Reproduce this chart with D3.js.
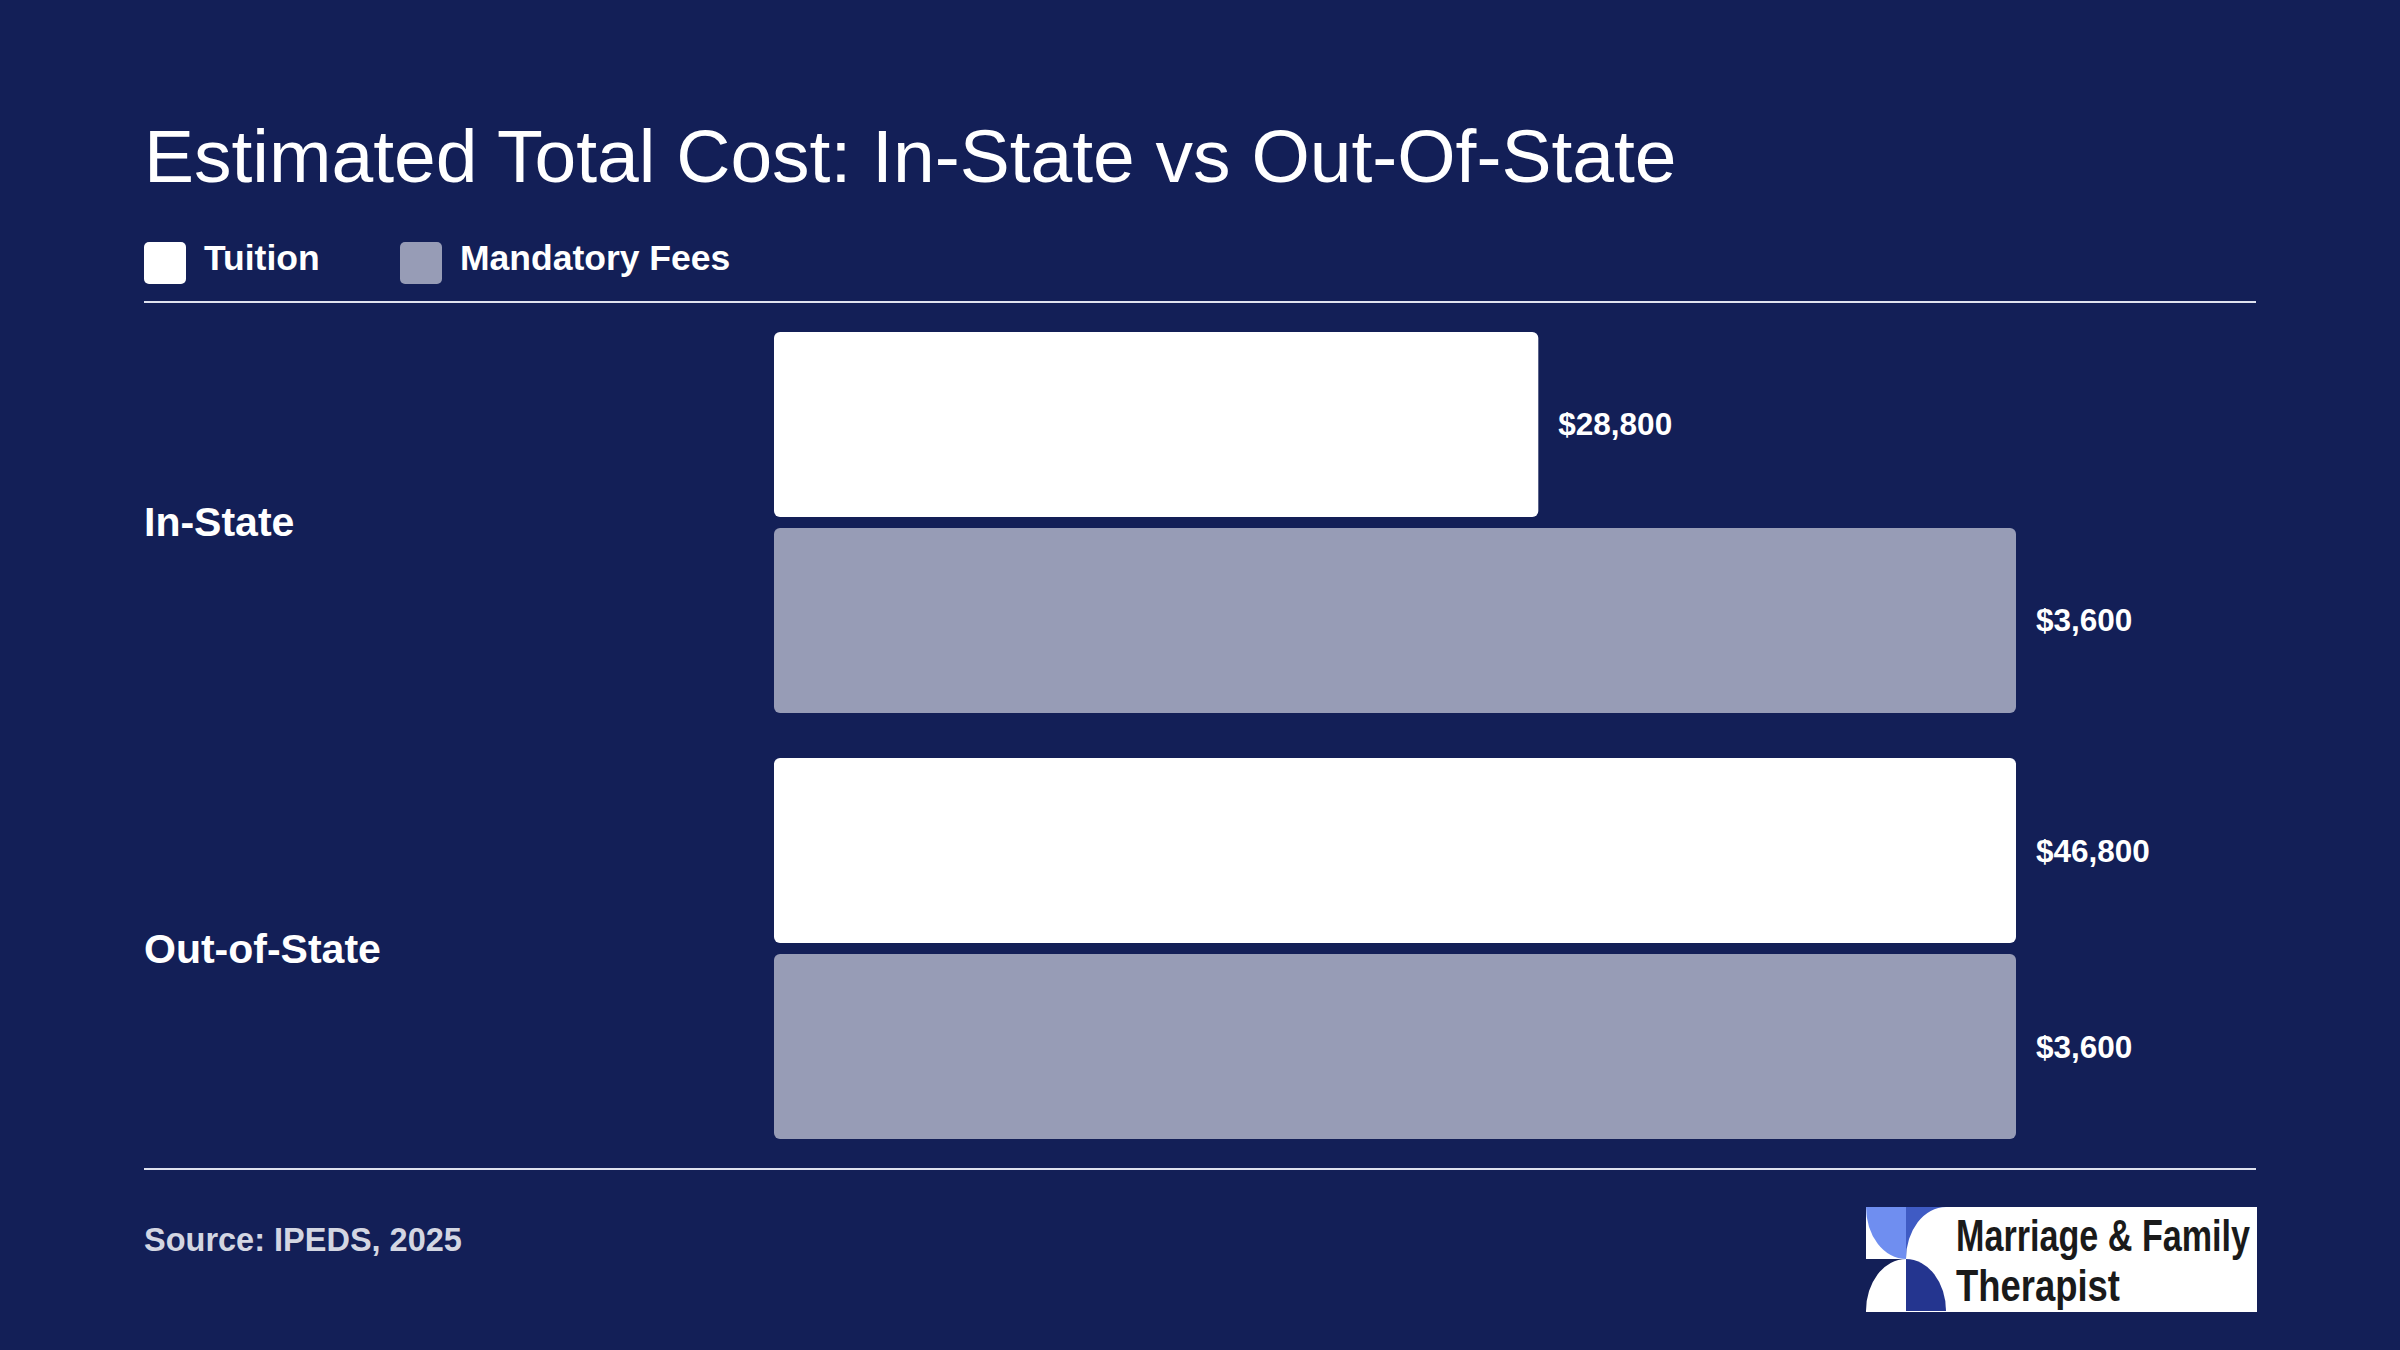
<!DOCTYPE html>
<html><head><meta charset="utf-8">
<script src="https://cdn.jsdelivr.net/npm/d3@7"></script>
<style>body{margin:0;background:#131f57;}svg{display:block}</style>
</head><body>
<script>
const categories = ["In-State", "Out-of-State"];
const seriesNames = ["Tuition", "Mandatory Fees"];
const tuition = [28800, 46800];
const fees = [3600, 3600];
const valueLabels = [["$28,800", "$3,600"], ["$46,800", "$3,600"]];

const W = 2400, H = 1350;
const bg = "#131f57", feeColor = "#979cb6";
const svg = d3.select("body").append("svg").attr("width", W).attr("height", H);
svg.append("rect").attr("width", W).attr("height", H).attr("fill", bg);
const font = "Liberation Sans, Arial, sans-serif";

svg.append("text").attr("x", 144).attr("y", 182).attr("fill", "#fff")
  .attr("font-family", font).attr("font-size", 75).text("Estimated Total Cost: In-State vs Out-Of-State");

// legend
const legX = [144, 400];
const legColors = ["#ffffff", feeColor];
seriesNames.forEach((n, i) => {
  svg.append("rect").attr("x", legX[i]).attr("y", 242).attr("width", 42).attr("height", 42).attr("rx", 5).attr("fill", legColors[i]);
  svg.append("text").attr("x", legX[i] + 60).attr("y", 270).attr("fill", "#fff").attr("font-family", font)
    .attr("font-weight", "bold").attr("font-size", 35.5).text(n);
});

svg.append("line").attr("x1", 144).attr("x2", 2256).attr("y1", 302).attr("y2", 302).attr("stroke", "#dfe2ee").attr("stroke-width", 2);
svg.append("line").attr("x1", 144).attr("x2", 2256).attr("y1", 1169).attr("y2", 1169).attr("stroke", "#dfe2ee").attr("stroke-width", 2);

const y0 = d3.scaleBand().domain(categories).range([332, 1139]).paddingInner(0.106).paddingOuter(0);
const y1 = d3.scaleBand().domain(seriesNames).range([0, y0.bandwidth()]).paddingInner(0.056).paddingOuter(0);
const xT = d3.scaleLinear().domain([0, d3.max(tuition)]).range([774, 2016]);
const xF = d3.scaleLinear().domain([0, d3.max(fees)]).range([774, 2016]);

categories.forEach((c, i) => {
  const vals = [[tuition[i], xT, "#ffffff"], [fees[i], xF, feeColor]];
  svg.append("text").attr("x", 144).attr("y", y0(c) + y0.bandwidth() / 2 + 14).attr("fill", "#fff")
    .attr("font-family", font).attr("font-weight", "bold").attr("font-size", 41).text(c);
  vals.forEach(([v, sc, col], j) => {
    const yy = y0(c) + y1(seriesNames[j]);
    svg.append("rect").attr("x", sc(0)).attr("y", yy).attr("width", sc(v) - sc(0)).attr("height", y1.bandwidth())
      .attr("rx", 6).attr("fill", col);
    svg.append("text").attr("x", sc(v) + 20).attr("y", yy + y1.bandwidth() / 2 + 11).attr("fill", "#fff")
      .attr("font-family", font).attr("font-weight", "bold").attr("font-size", 31.5).text(valueLabels[i][j]);
  });
});

svg.append("text").attr("x", 144).attr("y", 1251).attr("fill", "#d3d6e2").attr("font-family", font)
  .attr("font-weight", "bold").attr("font-size", 32.5).text("Source: IPEDS, 2025");

// logo
const lg = svg.append("g").attr("transform", "translate(1866,1207)");
lg.append("rect").attr("width", 391).attr("height", 105).attr("fill", "#fff");
lg.append("path").attr("d", "M0,0 H40 V52 A40,52 0 0 1 0,0 Z").attr("fill", "#6f8ef0");
lg.append("path").attr("d", "M40,52 V0 H80 A40,52 0 0 0 40,52 Z").attr("fill", "#3f5bc4");
lg.append("path").attr("d", "M0,52 H40 A40,52 0 0 0 0,104 Z").attr("fill", "#131f57");
lg.append("path").attr("d", "M40,52 A40,52 0 0 1 80,104 H40 Z").attr("fill", "#24358f");
lg.append("text").attr("x", 90).attr("y", 44).attr("font-family", "Liberation Sans Narrow, Liberation Sans, Arial").attr("font-weight", "bold")
  .attr("font-size", 44).attr("fill", "#1a1a1a").attr("textLength", 294).attr("lengthAdjust", "spacingAndGlyphs").text("Marriage & Family");
lg.append("text").attr("x", 90).attr("y", 94).attr("font-family", "Liberation Sans Narrow, Liberation Sans, Arial").attr("font-weight", "bold")
  .attr("font-size", 44).attr("fill", "#1a1a1a").attr("textLength", 164).attr("lengthAdjust", "spacingAndGlyphs").text("Therapist");
</script>
</body></html>
